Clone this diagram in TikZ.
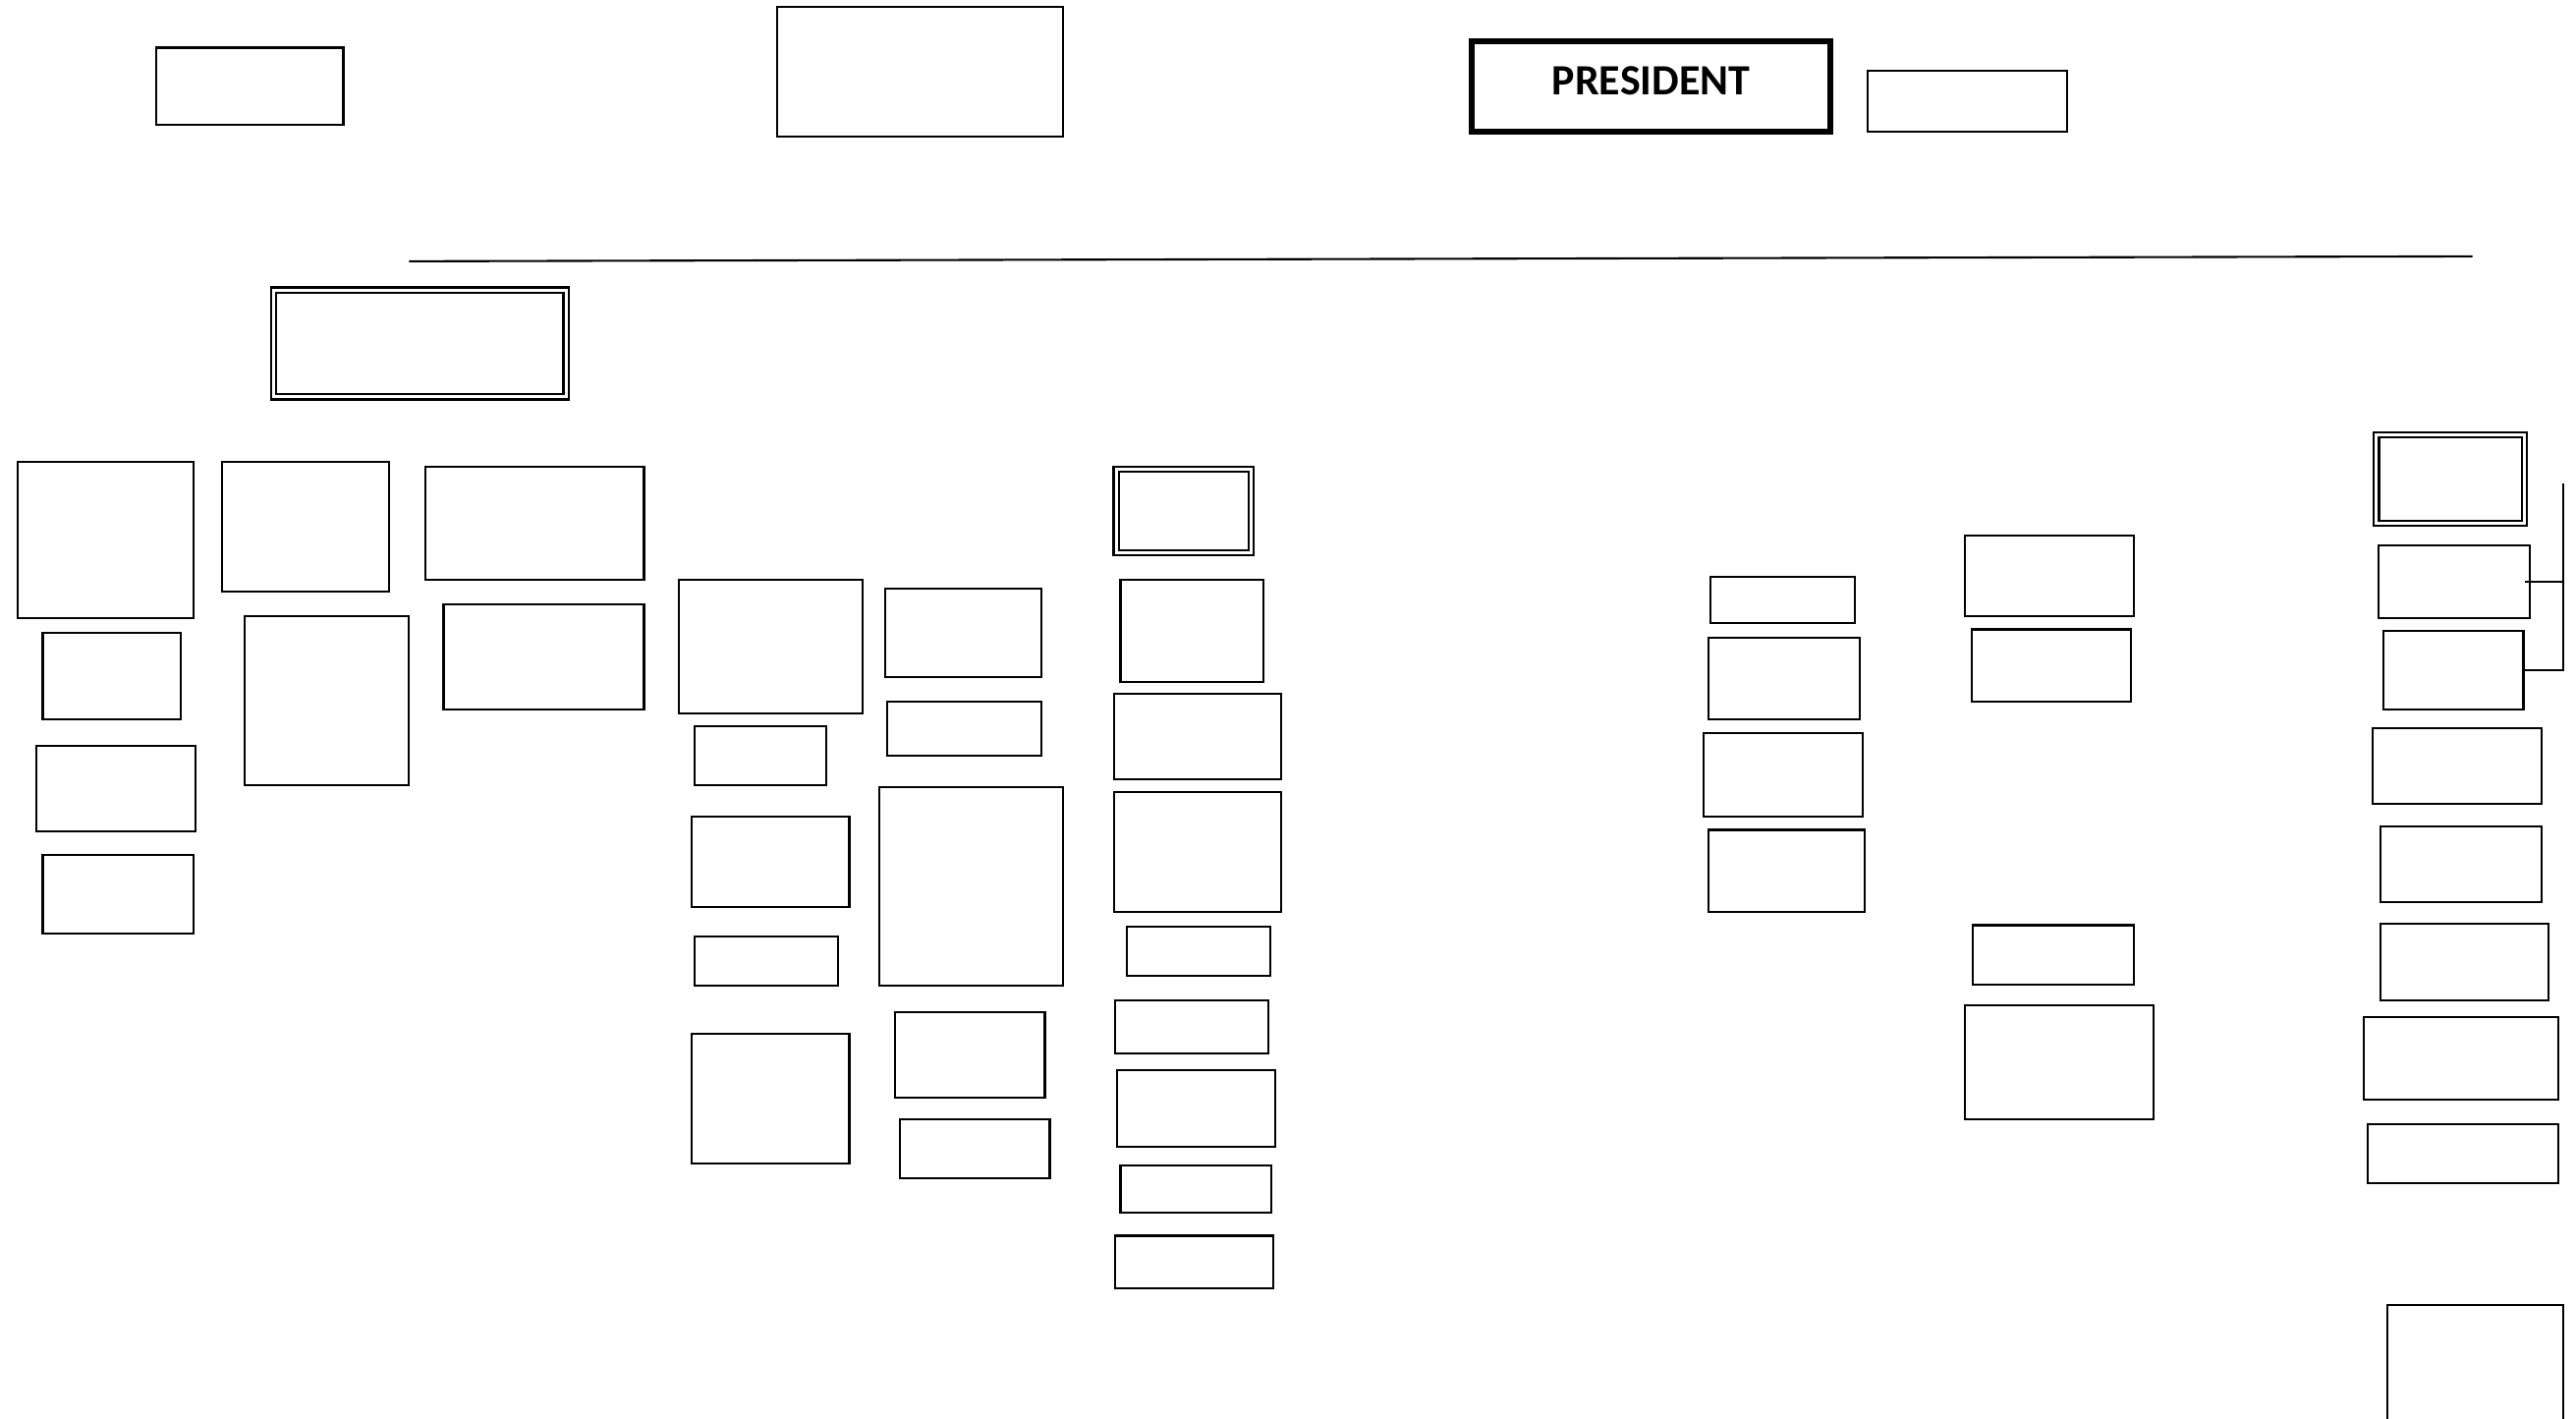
\documentclass[tikz,border=0pt]{standalone}
\usepackage{fontspec}
\setmainfont{Carlito}
\usepackage{tikz}
\usetikzlibrary{positioning,calc}
\newlength{\px}
\setlength{\px}{0.16722mm}
\tikzset{
  box/.style={rectangle, draw=black, line width=0.6pt, fill=white, inner sep=0pt,
              outer sep=0pt, anchor=north west},
  sz/.style 2 args={minimum width=#1\px, minimum height=#2\px},
  dbox/.style={box, double, double distance=0.3mm, line width=0.65pt},
  pbox/.style={box, line width=1.6pt, font=\bfseries\fontsize{12.5}{14}\selectfont,
               text depth=1.2mm},
  ln/.style={draw=black, line width=0.6pt},
}

\begin{document}
\begin{tikzpicture}[x=0.16722mm,y=-0.16722mm]
\useasboundingbox (0,0) rectangle (1568,863);
\clip (0,0) rectangle (1568,863);

% ===================== TOP ROW =====================
\node[box, sz={114}{47}] (T1) at (95,29) {};
\node[box, sz={174}{79}] (T2) at (473,4) {};
\node[pbox, sz={218}{55}] (PRES) at (896,25) {PRESIDENT};
\node[box, sz={121}{37}] (T4) at (1137,43) {};

% long rule under the top row
\coordinate (RL) at (249,159);
\coordinate (RR) at (1505,156);
\draw[ln] (RL) -- (RR);

% ===================== LEFT HEAD =====================
\node[dbox, sz={178}{65}] (HD) at (166.5,176.5) {};

% column A
\node[box, sz={107}{95}] (A1) at (11,281) {};
\node[box, sz={84}{53}]  (A2) at (26,385) {};
\node[box, sz={97}{52}]  (A3) at (22,454) {};
\node[box, sz={92}{48}]  (A4) at (26,520) {};

% column B
\node[box, sz={102}{79}]  (B1) at (135,281) {};
\node[box, sz={100}{103}] (B2) at (149,375) {};

% column C
\node[box, sz={133}{69}] (C1) at (259,284) {};
\node[box, sz={122}{64}] (C2) at (270,368) {};

% ===================== MIDDLE =====================
% column D
\node[box, sz={112}{81}] (D1) at (413,353) {};
\node[box, sz={80}{36}]  (D2) at (423,442) {};
\node[box, sz={96}{55}]  (D3) at (421,497) {};
\node[box, sz={87}{30}]  (D4) at (423,570) {};
\node[box, sz={96}{79}]  (D5) at (421,629) {};

% column E
\node[box, sz={95}{54}]   (E1) at (539,358) {};
\node[box, sz={94}{33}]   (E2) at (540,427) {};
\node[box, sz={112}{121}] (E3) at (535,479) {};
\node[box, sz={91}{52}]   (E4) at (545,616) {};
\node[box, sz={91}{36}]   (E5) at (548,681) {};

% column F
\node[dbox, sz={82}{51}] (F0) at (679.5,285.5) {};
\node[box, sz={87}{62}]  (F1) at (682,353) {};
\node[box, sz={102}{52}] (F2) at (678,422) {};
\node[box, sz={102}{73}] (F3) at (678,482) {};
\node[box, sz={87}{30}]  (F4) at (686,564) {};
\node[box, sz={93}{32}]  (F5) at (679,609) {};
\node[box, sz={96}{47}]  (F6) at (680,651) {};
\node[box, sz={92}{29}]  (F7) at (682,709) {};
\node[box, sz={96}{32}]  (F8) at (679,752) {};

% ===================== RIGHT =====================
% column G
\node[box, sz={88}{28}] (G1) at (1041,351) {};
\node[box, sz={92}{50}] (G2) at (1040,388) {};
\node[box, sz={97}{51}] (G3) at (1037,446) {};
\node[box, sz={95}{50}] (G4) at (1040,505) {};

% column H
\node[box, sz={103}{49}] (H1) at (1196,326) {};
\node[box, sz={97}{44}]  (H2) at (1200,383) {};
\node[box, sz={98}{36}]  (H3) at (1201,563) {};
\node[box, sz={115}{69}] (H4) at (1196,612) {};

% column J
\node[dbox, sz={90}{54}] (J0) at (1446.5,264.5) {};
\node[box, sz={92}{44}]  (J1) at (1448,332) {};
\node[box, sz={85}{48}]  (J2) at (1451,384) {};
\node[box, sz={103}{46}] (J3) at (1444,443) {};
\node[box, sz={98}{46}]  (J4) at (1449,503) {};
\node[box, sz={102}{47}] (J5) at (1449,562) {};
\node[box, sz={118}{50}] (J6) at (1439,619) {};
\node[box, sz={116}{36}] (J7) at (1441,684) {};
\node[box, sz={107}{100}] (J8) at (1453,794) {};

% bracket on the right of J1/J2
\coordinate (BT) at (1560,294);
\draw[ln] (BT) -- (BT |- J2.east) -- (J2.east);
\draw[ln] ([xshift=-3\px]J1.east) -- (BT |- J1.east);

\end{tikzpicture}
\end{document}
